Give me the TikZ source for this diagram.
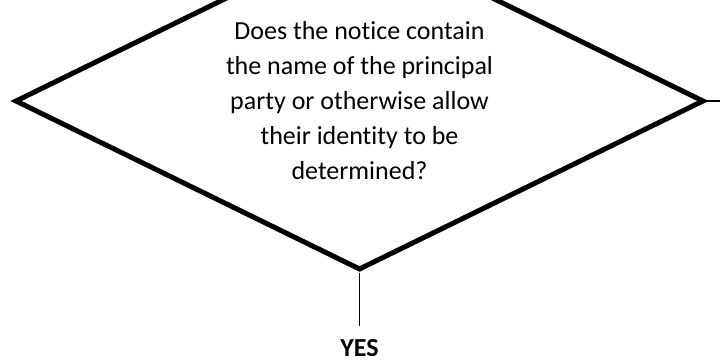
\documentclass[tikz,border=0pt]{standalone}
\usepackage{fontspec}
\setmainfont{Carlito}[Ligatures=NoCommon]
\usepackage{tikz}
\usetikzlibrary{shapes.geometric}
\makeatletter
\renewcommand\large{%
  \@setfontsize\large{26pt}{35pt}%
}
\makeatother

\begin{document}
\begin{tikzpicture}[x=1pt, y=-1pt, every node/.style={font=\large}]
  \useasboundingbox (0,0) rectangle (720,364);
  \node[draw, diamond, line width=5pt, align=center, aspect=2, minimum width=689pt, minimum height=338pt] (ask) at (359.5,101) {Does the notice contain\\the name of the principal\\party or otherwise allow\\their identity to be\\determined?};
  \node[inner sep=0pt, outer sep=0pt, anchor=base, font=\large\bfseries] (yes) at (ask.south |- 0,356) {YES};
  \coordinate (out) at (720,101);
  \draw[line width=1.3pt, shorten >=13pt] (ask.south) -- (yes.north);
  \draw[line width=1.2pt] (ask.east) -- (out);
\end{tikzpicture}
\end{document}
